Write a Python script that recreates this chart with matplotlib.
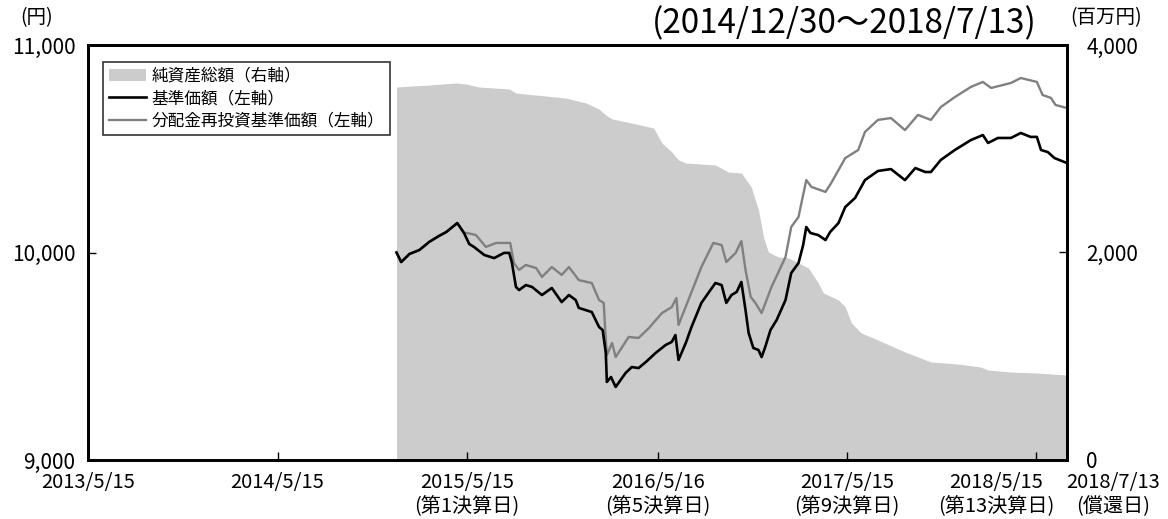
import matplotlib
matplotlib.use("Agg")
import matplotlib.pyplot as plt
from matplotlib.patches import Patch
from matplotlib.lines import Line2D
import pandas as pd

plt.rcParams['font.family'] = ['Noto Sans CJK JP', 'DejaVu Sans']

# ---- data ----
nav_dates = ["2014-12-30", "2015-01-29", "2015-03-03", "2015-04-24", "2015-05-13", "2015-06-07",
             "2015-08-04", "2015-08-17", "2015-10-14", "2015-11-21", "2015-12-30", "2016-01-24",
             "2016-02-06", "2016-02-18", "2016-03-27", "2016-05-08", "2016-05-24", "2016-06-12",
             "2016-06-25", "2016-07-09", "2016-09-04", "2016-09-29", "2016-10-24", "2016-11-12",
             "2016-11-26", "2016-12-06", "2016-12-15", "2017-01-03", "2017-01-23", "2017-02-11",
             "2017-03-02", "2017-03-21", "2017-03-31", "2017-04-29", "2017-05-12", "2017-05-24",
             "2017-06-12", "2017-07-14", "2017-09-04", "2017-10-24", "2017-12-15", "2018-01-28",
             "2018-02-11", "2018-03-27", "2018-05-18", "2018-07-13"]
nav_values = [3595, 3605, 3614, 3634, 3624, 3595,
              3576, 3537, 3508, 3489, 3441, 3383,
              3325, 3287, 3248, 3200, 3055, 2969,
              2892, 2863, 2843, 2776, 2766, 2631,
              2410, 2140, 2005, 1957, 1947, 1899,
              1851, 1706, 1610, 1542, 1475, 1320,
              1224, 1157, 1041, 945, 925, 896,
              867, 848, 838, 819]

base_dates = ["2014-12-30", "2015-01-08", "2015-01-24", "2015-02-12", "2015-03-03", "2015-03-22",
              "2015-04-05", "2015-04-26", "2015-05-09", "2015-05-19", "2015-05-28", "2015-06-17",
              "2015-07-06", "2015-07-25", "2015-08-04", "2015-08-09", "2015-08-17", "2015-08-23",
              "2015-09-05", "2015-09-17", "2015-10-06", "2015-10-25", "2015-11-13", "2015-11-27",
              "2015-12-10", "2015-12-16", "2016-01-10", "2016-01-24", "2016-01-31", "2016-02-06",
              "2016-02-08", "2016-02-16", "2016-02-25", "2016-03-15", "2016-03-27", "2016-04-09",
              "2016-04-23", "2016-05-12", "2016-05-31", "2016-06-12", "2016-06-19", "2016-06-25",
              "2016-07-09", "2016-07-20", "2016-08-08", "2016-09-04", "2016-09-16", "2016-09-25",
              "2016-10-05", "2016-10-15", "2016-10-24", "2016-11-01", "2016-11-07", "2016-11-16",
              "2016-11-26", "2016-12-02", "2016-12-09", "2016-12-19", "2016-12-31", "2017-01-17",
              "2017-01-28", "2017-02-11", "2017-02-20", "2017-02-26", "2017-03-06", "2017-03-21",
              "2017-04-04", "2017-04-13", "2017-04-29", "2017-05-12", "2017-05-31", "2017-06-19",
              "2017-07-14", "2017-08-08", "2017-09-04", "2017-09-24", "2017-10-13", "2017-10-24",
              "2017-11-12", "2017-12-09", "2018-01-09", "2018-02-01", "2018-02-11", "2018-03-02",
              "2018-03-27", "2018-04-15", "2018-05-04", "2018-05-16", "2018-05-24", "2018-06-06",
              "2018-06-19", "2018-07-13"]
base_values = [10000, 9954, 9993, 10012, 10051, 10080,
               10099, 10142, 10094, 10041, 10027, 9988,
               9973, 9998, 9998, 9954, 9834, 9819,
               9843, 9834, 9795, 9829, 9761, 9795,
               9771, 9733, 9713, 9641, 9626, 9516,
               9376, 9400, 9352, 9419, 9448, 9443,
               9472, 9516, 9554, 9569, 9602, 9482,
               9564, 9641, 9757, 9853, 9843, 9757,
               9795, 9810, 9858, 9723, 9612, 9540,
               9530, 9496, 9545, 9626, 9675, 9771,
               9901, 9949, 10036, 10123, 10094, 10084,
               10060, 10099, 10142, 10219, 10263, 10349,
               10393, 10402, 10349, 10407, 10388, 10388,
               10446, 10494, 10542, 10566, 10528, 10552,
               10552, 10576, 10557, 10557, 10494, 10484,
               10455, 10431]

reinv_dates = ["2014-12-30", "2015-01-08", "2015-01-24", "2015-02-12", "2015-03-03", "2015-03-22",
               "2015-04-05", "2015-04-26", "2015-05-09", "2015-05-15", "2015-06-01", "2015-06-20",
               "2015-07-10", "2015-07-31", "2015-08-06", "2015-08-13", "2015-08-23", "2015-09-05",
               "2015-09-25", "2015-10-06", "2015-10-25", "2015-11-13", "2015-11-27", "2015-12-16",
               "2016-01-10", "2016-01-24", "2016-02-02", "2016-02-06", "2016-02-08", "2016-02-18",
               "2016-02-25", "2016-03-21", "2016-04-09", "2016-04-29", "2016-05-24", "2016-06-12",
               "2016-06-21", "2016-06-25", "2016-07-14", "2016-08-08", "2016-08-31", "2016-09-16",
               "2016-09-25", "2016-10-13", "2016-10-24", "2016-11-01", "2016-11-11", "2016-11-20",
               "2016-12-02", "2016-12-21", "2017-01-17", "2017-01-28", "2017-02-11", "2017-02-26",
               "2017-03-08", "2017-04-04", "2017-04-15", "2017-05-12", "2017-06-06", "2017-06-19",
               "2017-07-14", "2017-08-08", "2017-09-04", "2017-09-29", "2017-10-24", "2017-11-12",
               "2017-12-09", "2018-01-09", "2018-02-01", "2018-02-17", "2018-03-27", "2018-04-15",
               "2018-05-16", "2018-05-27", "2018-06-12", "2018-06-21", "2018-07-13"]
reinv_values = [10000, 9954, 9993, 10012, 10051, 10080,
                10099, 10142, 10094, 10094, 10084, 10027,
                10046, 10046, 10046, 9949, 9916, 9940,
                9925, 9882, 9930, 9892, 9930, 9867,
                9853, 9771, 9757, 9578, 9506, 9564,
                9496, 9593, 9588, 9636, 9708, 9737,
                9781, 9651, 9771, 9930, 10046, 10036,
                9954, 9998, 10055, 9916, 9786, 9757,
                9708, 9834, 9978, 10123, 10171, 10349,
                10316, 10292, 10335, 10455, 10494, 10581,
                10639, 10648, 10590, 10663, 10639, 10701,
                10749, 10798, 10822, 10793, 10817, 10841,
                10822, 10759, 10745, 10711, 10696]

xtick_dates = ["2013-05-15", "2014-05-15", "2015-05-15", "2016-05-16", "2017-05-15", "2018-05-15", "2018-07-13"]
xtick_labels = ["2013/5/15", "2014/5/15", "2015/5/15\n(第1決算日)", "2016/5/16\n(第5決算日)",
                "2017/5/15\n(第9決算日)", "2018/5/15\n(第13決算日)", "2018/7/13\n(償還日)"]
xtick_shift = [0, 0, 0, 0, 0, -40, 46]
left_ticks = [9000, 10000, 11000]
right_ticks = [0, 2000, 4000]

legend_labels = ["純資産総額（右軸）", "基準価額（左軸）", "分配金再投資基準価額（左軸）"]
title_text = "(2014/12/30〜2018/7/13)"

# ---- plot ----
fig = plt.figure(figsize=(11.68, 5.19), dpi=100)
ax = fig.add_axes([88/1168, 1-460/519, (1067-88)/1168, (460-45)/519])
ax2 = ax.twinx()
ax.set_zorder(ax2.get_zorder() + 1)
ax.patch.set_visible(False)

AREA = '#cccccc'
GRAY = '#808080'

ax2.fill_between(pd.to_datetime(nav_dates), nav_values, 0, color=AREA, linewidth=0)
ax.plot(pd.to_datetime(reinv_dates), reinv_values, color=GRAY, lw=1.7)
ax.plot(pd.to_datetime(base_dates), base_values, color='black', lw=1.9)

ax.set_xlim(pd.Timestamp("2013-05-15"), pd.Timestamp("2018-07-13"))
ax.set_ylim(9000, 11000)
ax2.set_ylim(0, 4000)

for a in (ax, ax2):
    for s in a.spines.values():
        s.set_linewidth(2)
        s.set_color('black')

xt = pd.to_datetime(xtick_dates)
ax.set_xticks(xt)
ax.set_xticklabels([])
ax.tick_params(axis='x', direction='in', length=6, width=1)
for d, lab, sh in zip(xt, xtick_labels, xtick_shift):
    ax.annotate(lab, xy=(d, 0), xycoords=('data', 'axes fraction'),
                xytext=(sh, -12), textcoords='offset pixels',
                ha='center', va='top', fontsize=14.5, linespacing=1.2,
                multialignment='center')

ax.set_yticks(left_ticks)
ax.set_yticklabels([f"{v:,}" for v in left_ticks], fontsize=15)
ax.tick_params(axis='y', direction='in', length=6, width=1, pad=9)
ax2.set_yticks(right_ticks)
ax2.set_yticklabels([f"{v:,}" for v in right_ticks], fontsize=15)
ax2.tick_params(axis='y', direction='in', length=6, width=1, pad=14)

fig.text(37/1168, 1-18/519, "(円)", ha='center', va='center', fontsize=14)
fig.text(1106/1168, 1-18/519, "(百万円)", ha='center', va='center', fontsize=14)
fig.text(844/1168, 1-24/519, title_text, ha='center', va='center', fontsize=24)

handles = [Patch(facecolor=AREA, edgecolor='none'),
           Line2D([], [], color='black', lw=1.9),
           Line2D([], [], color=GRAY, lw=1.7)]
leg = ax.legend(handles, legend_labels, loc='upper left',
                bbox_to_anchor=(15/979, 1-17/415), fontsize=12, frameon=True,
                fancybox=False, borderaxespad=0, handlelength=2.2, handletextpad=0.35,
                labelspacing=0.32, borderpad=0.35)
leg.get_frame().set_edgecolor('black')
leg.get_frame().set_linewidth(1.2)

fig.savefig("out.png", dpi=100)
